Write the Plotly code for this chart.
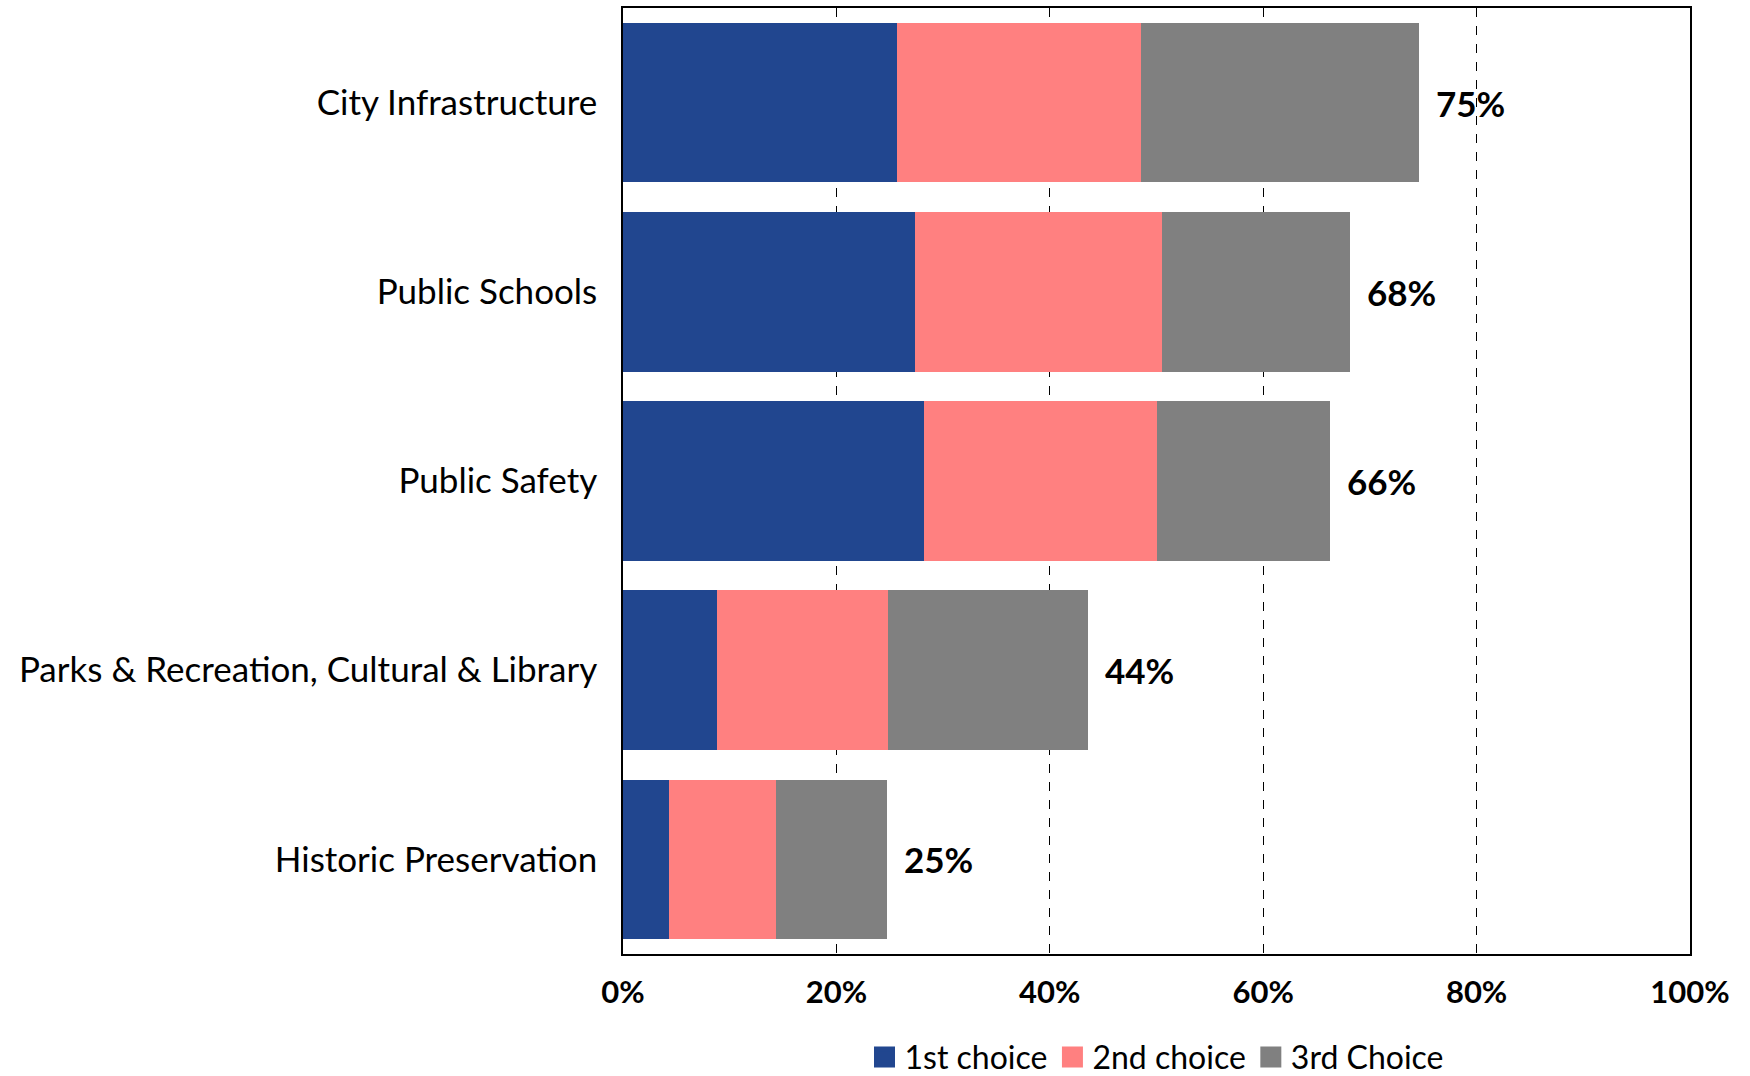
import plotly.graph_objects as go

# Priority areas, listed top to bottom
categories = [
    "City Infrastructure",
    "Public Schools",
    "Public Safety",
    "Parks & Recreation, Cultural & Library",
    "Historic Preservation",
]

# Share of respondents (%) ranking each area as a choice
first_choice = [25.7, 27.4, 28.2, 8.8, 4.3]
second_choice = [22.8, 23.1, 21.8, 16.0, 10.0]
third_choice = [26.1, 17.6, 16.3, 18.8, 10.4]

series_names = ["1st choice", "2nd choice", "3rd Choice"]
series_colors = ["#21468F", "#FF8080", "#808080"]

tick_vals = [0, 20, 40, 60, 80, 100]
tick_text = ["0%", "20%", "40%", "60%", "80%", "100%"]

FONT = "Lato, 'Open Sans', sans-serif"

totals = [a + b + c for a, b, c in zip(first_choice, second_choice, third_choice)]
total_labels = [f"{round(t)}%" for t in totals]

fig = go.Figure()
for i, (name, vals, color) in enumerate(
        zip(series_names, [first_choice, second_choice, third_choice], series_colors)):
    fig.add_trace(go.Bar(
        y=categories,
        x=vals,
        name=name,
        orientation="h",
        marker=dict(color=color, line=dict(width=0)),
        legendgroup=f"s{i}",
        showlegend=False,
        hoverinfo="x+name",
    ))
    # Legend-only entry with a larger square swatch
    fig.add_trace(go.Scatter(
        x=[None],
        y=[None],
        mode="markers",
        name=name,
        legendgroup=f"s{i}",
        marker=dict(symbol="square", size=16, color=color,
                    line=dict(width=5, color=color)),
        hoverinfo="skip",
    ))

# Total labels just past the end of each stacked bar
for cat, tot, lab in zip(categories, totals, total_labels):
    fig.add_annotation(
        x=tot,
        y=cat,
        xref="x",
        yref="y",
        text="<b>" + lab + "</b>",
        showarrow=False,
        xanchor="left",
        yanchor="middle",
        xshift=15,
        font=dict(family=FONT, size=35, color="black"),
    )

fig.update_layout(
    barmode="stack",
    bargap=0.157,
    width=1750,
    height=1076,
    margin=dict(l=623, r=60, t=8, b=122, autoexpand=False),
    paper_bgcolor="white",
    plot_bgcolor="white",
    font=dict(family=FONT, color="black"),
    legend=dict(
        orientation="h",
        x=0.5,
        xanchor="center",
        y=-0.109,
        yanchor="middle",
        font=dict(family=FONT, size=32, color="black"),
        bgcolor="rgba(0,0,0,0)",
        traceorder="normal",
        itemsizing="trace",
        itemwidth=30,
        tracegroupgap=0,
    ),
    xaxis=dict(
        range=[0, 100],
        tickvals=tick_vals,
        ticktext=["<b>" + t + "</b>" for t in tick_text],
        tickfont=dict(family=FONT, size=31, color="black"),
        showgrid=True,
        gridcolor="black",
        griddash="dash",
        gridwidth=1,
        zeroline=False,
        showline=True,
        linecolor="black",
        linewidth=1.5,
        mirror=True,
        ticks="",
        ticklabelstandoff=10,
        fixedrange=True,
    ),
    yaxis=dict(
        categoryorder="array",
        categoryarray=categories[::-1],
        tickfont=dict(family=FONT, size=35, color="black"),
        showgrid=False,
        zeroline=False,
        showline=True,
        linecolor="black",
        linewidth=1.5,
        mirror=True,
        ticks="",
        ticklabelstandoff=17,
        fixedrange=True,
    ),
)

fig.write_html("out.html")
